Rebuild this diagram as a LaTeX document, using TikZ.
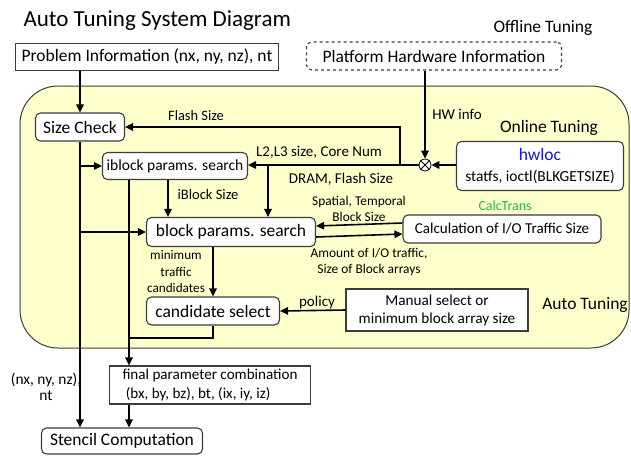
\documentclass[tikz,border=0pt]{standalone}
\usepackage{fontspec}
\setmainfont{Carlito}
\usetikzlibrary{positioning, arrows.meta}

\definecolor{tunefill}{RGB}{255,255,204}
\definecolor{boxline}{RGB}{60,60,60}
\definecolor{hwblue}{RGB}{20,20,240}
\definecolor{calcgreen}{RGB}{30,190,60}

\begin{document}
\begin{tikzpicture}[
    x=1pt, y=-1pt,
    every node/.style = {font=\fontsize{17.5}{19}\selectfont},
    box/.style      = {rectangle, draw=boxline, line width=1.1pt, fill=white,
                       align=center, inner sep=2pt},
    rbox/.style     = {box, rounded corners=5pt},
    dbox/.style     = {rbox, dashed},
    lbl/.style      = {align=center, inner sep=1pt,
                       font=\fontsize{15}{16}\selectfont},
    slbl/.style     = {lbl, font=\fontsize{13.4}{15.5}\selectfont},
    sumnode/.style  = {circle, draw, line width=0.8pt, fill=white,
                       minimum size=12pt, inner sep=0pt},
    arr/.style      = {-{Triangle[length=8pt,width=7.5pt]}, line width=1.6pt},
    ln/.style       = {line width=1.6pt}
]
\useasboundingbox (0,0) rectangle (631,455);

% tuning area
\draw[draw=boxline, line width=1pt, fill=tunefill, rounded corners=38pt]
    (20,86) rectangle (629,348);

\node[anchor=base west, font=\fontsize{23}{26}\selectfont] (title) at (20,27) {Auto Tuning System Diagram};
\node (offline) at (543,28) {Offline Tuning};
\node (online)  at (549,128) {Online Tuning};
\node (auto)    at (585,305) {Auto Tuning};

\node[box,  minimum width=263pt, minimum height=27pt] (prob) at (147,57) {Problem Information (nx, ny, nz), nt};
\node[dbox, minimum width=255pt, minimum height=28pt] (plat) at (434,56) {Platform Hardware Information};
\node[rbox, minimum width=89pt,  minimum height=28pt] (size) at (80,127) {Size Check};
\node[rbox, minimum width=167pt, minimum height=49pt, align=center,
      font=\fontsize{15.4}{21}\selectfont] (hwloc) at (540,166)
    {{\fontsize{17.5}{19}\selectfont\color{hwblue}hwloc}\\ statfs, ioctl(BLKGETSIZE)};
\node[sumnode] (j) at (425,165) {};
\draw[line width=0.8pt] (j.north west) -- (j.south east) (j.north east) -- (j.south west);

\node[rbox, minimum width=145pt, minimum height=27pt, font=\fontsize{15.5}{17}\selectfont] (iblock) at (175,166) {iblock params. search};
\node[rbox, minimum width=169pt, minimum height=29pt] (block) at (231,232) {block params. search};
\node[rbox, minimum width=198pt, minimum height=28pt, font=\fontsize{15.1}{17}\selectfont] (calc) at (502,229) {Calculation of I/O Traffic Size};
\node[slbl, text=calcgreen, font=\fontsize{13.9}{16}\selectfont] (calctrans) at (505,206) {CalcTrans};
\node[rbox, minimum width=133pt, minimum height=28pt] (cand) at (213,311) {candidate select};
\node[box,  minimum width=182pt, minimum height=42pt, font=\fontsize{15.2}{18}\selectfont] (manual) at (437,310) {Manual select or\\ minimum block array size};
\node[box,  minimum width=201pt, minimum height=38pt, align=left, font=\fontsize{15.1}{19}\selectfont] (final) at (210,385)
    {final parameter combination\\ \ (bx, by, bz), bt, (ix, iy, iz)};
\node[rbox, minimum width=161pt, minimum height=26pt] (stencil) at (122,441) {Stencil Computation};

% labels
\node[lbl, font=\fontsize{14.4}{16}\selectfont] (flashlbl) at (196,116) {Flash Size};
\node[lbl] (hwlbl)    at (457,114) {HW info};
\node[lbl] (l2lbl)    at (319,152) {L2,L3 size, Core Num};
\node[lbl] (dramlbl)  at (341,179) {DRAM, Flash Size};
\node[lbl, font=\fontsize{14.5}{16}\selectfont] (iblbl) at (208,195) {iBlock Size};
\node[slbl] (spatlbl) at (359,209) {Spatial, Temporal\\ Block Size};
\node[slbl] (amtlbl)  at (369,262) {Amount of I/O traffic,\\ Size of Block arrays};
\node[slbl, font=\fontsize{13.2}{16.5}\selectfont] (minlbl) at (176,272) {minimum\\ traffic\\ candidates};
\node[lbl] (policylbl) at (317,302) {policy};
\node[lbl, font=\fontsize{15.4}{16}\selectfont] (nxlbl) at (46,387) {(nx, ny, nz),\\ nt};

% branch points
\coordinate (flashup) at (400,165);
\coordinate (drambr)  at (268,165);
\coordinate (ibdown)  at (168,180);
\coordinate (ibleft)  at (129,180);
\coordinate (candjoin) at (129,338);

\draw[arr] (size.north |- prob.south) -- (size.north);
\draw[arr] (j |- plat.south) -- (j.north);
\draw[arr] (hwloc.west |- j) -- (j.east);
\draw[arr] (j.west) -- (iblock.east |- j);
\draw[arr] (flashup) |- (size.east);
\draw[arr] (drambr) -- (drambr |- block.north);
\draw[arr] (ibdown) -- (ibdown |- block.north);
\draw[arr] (size.south) -- (size.south |- stencil.north);
\draw[arr] (size.south |- iblock.west) -- (iblock.west);
\draw[arr] (size.south |- block.west) -- (block.west);
\draw[arr] ([yshift=-5pt]block.east) -- ([yshift=-2pt]calc.west |- block.east);
\draw[arr] ([yshift=9pt]calc.west |- block.east) -- ([yshift=6pt]block.east);
\draw[arr] (cand.north |- block.south) -- (cand.north);
\draw[arr] (manual.west) -- (cand.east);
\draw[ln]  (cand.south) |- (candjoin);
\draw[arr] (ibleft) -- (ibleft |- final.north);
\draw[arr] (ibleft |- final.south) -- (ibleft |- stencil.north);
\end{tikzpicture}
\end{document}
